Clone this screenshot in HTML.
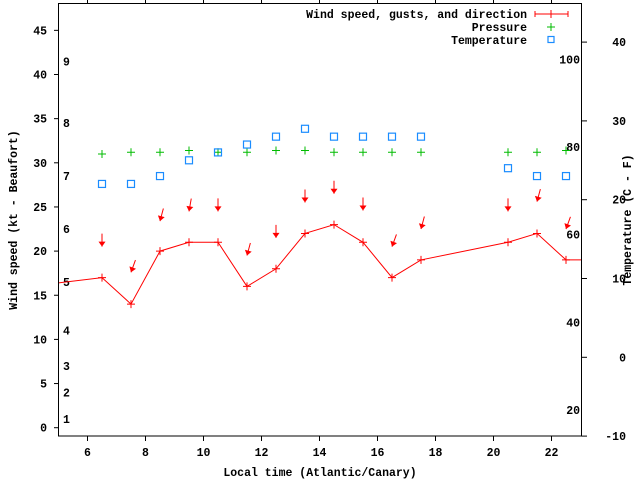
<!DOCTYPE html>
<html><head><meta charset="utf-8"><style>
body{margin:0;background:#fff}
svg text{font-family:"Liberation Mono",monospace;font-weight:bold;font-size:11.5px;fill:#000}
</style></head><body>
<svg width="640" height="480" viewBox="0 0 640 480" xmlns="http://www.w3.org/2000/svg">
<defs><clipPath id="pc"><rect x="58.5" y="3.5" width="523" height="432.5"/></clipPath></defs>
<g id="axes"></g>
<g id="marks" clip-path="url(#pc)"></g>
<rect x="58.5" y="3.5" width="523" height="432.5" fill="none" stroke="#000" stroke-width="1"/>
<g id="legend">
<text x="527" y="18" text-anchor="end">Wind speed, gusts, and direction</text>
<line x1="535" y1="14" x2="568" y2="14" stroke="#f00"/>
<line x1="535" y1="11" x2="535" y2="17" stroke="#f00"/><line x1="568" y1="11" x2="568" y2="17" stroke="#f00"/><line x1="551" y1="10" x2="551" y2="18" stroke="#f00"/>
<text x="527" y="31" text-anchor="end">Pressure</text>
<path d="M547 27h8M551 23v8" stroke="#0b0"/>
<text x="527" y="44" text-anchor="end">Temperature</text>
<rect x="548" y="36.5" width="6" height="6" fill="none" stroke="#1a8cff" stroke-width="1.2"/>
</g>
<text x="320" y="476" text-anchor="middle">Local time (Atlantic/Canary)</text>
<text transform="translate(17,220) rotate(-90)" text-anchor="middle">Wind speed (kt - Beaufort)</text>
<text transform="translate(631,220) rotate(-90)" text-anchor="middle">Temperature (C - F)</text>
</svg>
<script>
const xTicks=[6,8,10,12,14,16,18,20,22];
const yTicks=[0,5,10,15,20,25,30,35,40,45];
const y2Ticks=[-10,0,10,20,30,40];
const fLabels=[20,40,60,80,100];
const bftLabels=["1","2","3","4","5","6","7","8","9"];
const bftY=[1.0,4.0,7.0,11.0,16.5,22.5,28.5,34.5,41.5];
const times=[4.5,6.5,7.5,8.5,9.5,10.5,11.5,12.5,13.5,14.5,15.5,16.5,17.5,20.5,21.5,22.5,23.5];
const speed=[16.2,17,14,20,21,21,16,18,22,23,21,17,19,21,22,19,19];
const obsTimes=[6.5,7.5,8.5,9.5,10.5,11.5,12.5,13.5,14.5,15.5,16.5,17.5,20.5,21.5,22.5];
const gust=[20.5,17.6,23.4,24.5,24.5,19.5,21.5,25.5,26.5,24.6,20.5,22.5,24.5,25.6,22.5];
const dirDeg=[0,20,15,10,0,15,0,0,0,0,20,15,0,15,20];
const pressure=[31.0,31.2,31.2,31.4,31.2,31.2,31.4,31.4,31.2,31.2,31.2,31.2,31.2,31.2,31.4];
const tempC=[22,22,23,25,26,27,28,29,28,28,28,28,24,23,23];

const NS="http://www.w3.org/2000/svg";
const X=t=>58.5+(t-5)*29;
const Y=v=>427.7-v*8.83;
const Y2=c=>357.3-c*7.88;
function mk(tag,at,par){const e=document.createElementNS(NS,tag);for(const k in at)e.setAttribute(k,at[k]);document.getElementById(par).appendChild(e);return e;}
xTicks.forEach(t=>{
 const l=mk('path',{d:`M${X(t)} 436v5M${X(t)} 3.5v-4`,stroke:'#000'},'axes');
 
 
 const tx=mk('text',{x:X(t),y:456,'text-anchor':'middle'},'axes');tx.textContent=t;
 
 
});
yTicks.forEach(v=>{
 const l=mk('line',{x1:54,x2:58.5,y1:Y(v),y2:Y(v),stroke:'#000'},'axes');
 
 
 const tx=mk('text',{x:47,y:Y(v)+4,'text-anchor':'end'},'axes');tx.textContent=v;
 
 
});
y2Ticks.forEach(c=>{
 const l=mk('line',{x1:581.5,x2:587,y1:Y2(c),y2:Y2(c),stroke:'#000'},'axes');
 
 
 const tx=mk('text',{x:626,y:Y2(c)+4,'text-anchor':'end'},'axes');tx.textContent=c;
 
 
});
fLabels.forEach(f=>{
 const tx=mk('text',{x:580,y:Y2((f-32)*5/9)+4,'text-anchor':'end'},'axes');tx.textContent=f;
 
 
});
bftLabels.forEach((b,i)=>{
 const tx=mk('text',{x:63,y:Y(bftY[i])+4},'axes');tx.textContent=b;
 
 
});
const pl=mk('polyline',{points:times.map((t,i)=>X(t)+','+Y(speed[i])).join(' '),fill:'none',stroke:'#f00'},'marks');


times.forEach((t,i)=>{
 const p=mk('path',{d:`M${X(t)-4} ${Y(speed[i])}h8M${X(t)} ${Y(speed[i])-4}v8`,stroke:'#f00'},'marks');
 
 
});
obsTimes.forEach((t,i)=>{
 const x=X(t),y=Y(gust[i]),a=dirDeg[i]*Math.PI/180,L=13;
 const sx=x+Math.sin(a)*L,sy=y-Math.cos(a)*L;
 const ux=Math.sin(a),uy=-Math.cos(a),px=-uy,py=ux;
 const g=mk('g',{},'marks');
 
 
 const ln=document.createElementNS(NS,'line');
 ln.setAttribute('x1',sx);ln.setAttribute('y1',sy);ln.setAttribute('x2',x);ln.setAttribute('y2',y);ln.setAttribute('stroke','#f00');
 g.appendChild(ln);
 const hb=5,hw=3.5;
 const tri=document.createElementNS(NS,'polygon');
 tri.setAttribute('points',`${x},${y} ${x+ux*hb+px*hw},${y+uy*hb+py*hw} ${x+ux*hb-px*hw},${y+uy*hb-py*hw}`);
 tri.setAttribute('fill','#f00');
 g.appendChild(tri);
});
obsTimes.forEach((t,i)=>{
 const p=mk('path',{d:`M${X(t)-4} ${Y(pressure[i])}h8M${X(t)} ${Y(pressure[i])-4}v8`,stroke:'#0b0'},'marks');
 
 
 const r=mk('rect',{x:X(t)-3.5,y:Y2(tempC[i])-3.5,width:7,height:7,fill:'none',stroke:'#1a8cff','stroke-width':1.2},'marks');
 
 
});
</script>
</body></html>
